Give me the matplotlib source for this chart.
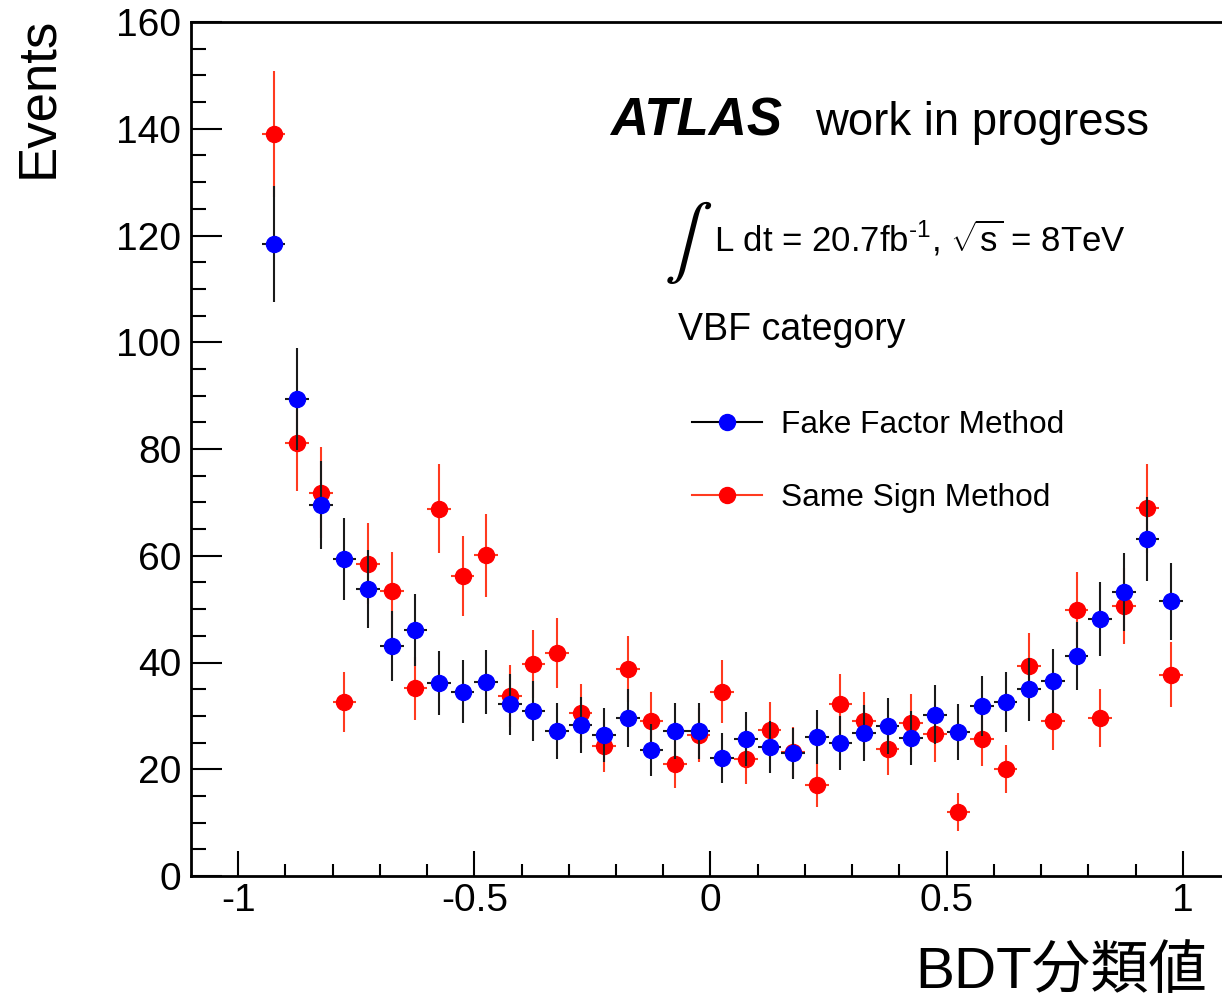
import numpy as np
import matplotlib
matplotlib.use("Agg")
import matplotlib.pyplot as plt
from matplotlib.lines import Line2D
from matplotlib import font_manager

# ---- data -------------------------------------------------------------
bin_centers = [-0.925, -0.875, -0.825, -0.775, -0.725, -0.675, -0.625, -0.575,
               -0.525, -0.475, -0.425, -0.375, -0.325, -0.275, -0.225, -0.175,
               -0.125, -0.075, -0.025, 0.025, 0.075, 0.125, 0.175, 0.225,
               0.275, 0.325, 0.375, 0.425, 0.475, 0.525, 0.575, 0.625,
               0.675, 0.725, 0.775, 0.825, 0.875, 0.925, 0.975]
bin_half_width = 0.025

fake_factor = [118.4, 89.4, 69.5, 59.4, 53.8, 43.1, 46.1, 36.2, 34.5, 36.3,
               32.2, 30.9, 27.2, 28.3, 26.4, 29.6, 23.6, 27.2, 27.2, 22.1,
               25.7, 24.2, 23.0, 26.0, 24.9, 26.8, 28.1, 25.9, 30.2, 27.0,
               31.9, 32.6, 35.0, 36.5, 41.2, 48.1, 53.2, 63.1, 51.5]
fake_factor_err = [10.9, 9.5, 8.3, 7.7, 7.3, 6.6, 6.8, 6.0, 5.9, 6.0,
                   5.7, 5.6, 5.2, 5.3, 5.1, 5.4, 4.9, 5.2, 5.2, 4.7,
                   5.1, 4.9, 4.8, 5.1, 5.0, 5.2, 5.3, 5.1, 5.5, 5.2,
                   5.6, 5.7, 5.9, 6.0, 6.4, 6.9, 7.3, 7.9, 7.2]

same_sign = [139.0, 81.1, 71.8, 32.6, 58.5, 53.4, 35.2, 68.8, 56.2, 60.1,
             33.7, 39.7, 41.8, 30.5, 24.4, 38.8, 29.0, 21.0, 26.4, 34.5,
             21.9, 27.4, 23.2, 17.0, 32.2, 29.0, 23.8, 28.7, 26.6, 12.0,
             25.7, 20.0, 39.3, 29.0, 49.8, 29.6, 50.6, 68.9, 37.7]
same_sign_err = [11.8, 9.0, 8.5, 5.7, 7.6, 7.3, 5.9, 8.3, 7.5, 7.8,
                 5.8, 6.3, 6.5, 5.5, 4.9, 6.2, 5.4, 4.6, 5.1, 5.9,
                 4.7, 5.2, 4.8, 4.1, 5.7, 5.4, 4.9, 5.4, 5.2, 3.5,
                 5.1, 4.5, 6.3, 5.4, 7.1, 5.4, 7.1, 8.3, 6.1]

x_ticks = [-1.0, -0.5, 0.0, 0.5, 1.0]
x_tick_labels = ['-1', '-0.5', '0', '0.5', '1']
y_ticks = [0, 20, 40, 60, 80, 100, 120, 140, 160]

# ---- style ------------------------------------------------------------
SANS = 'Liberation Sans'
available = {f.name for f in font_manager.fontManager.ttflist}
NARROW = 'Liberation Sans Narrow' if 'Liberation Sans Narrow' in available else SANS

plt.rcParams['font.family'] = [SANS, 'DejaVu Sans']
plt.rcParams['axes.unicode_minus'] = False
plt.rcParams['mathtext.fontset'] = 'custom'
plt.rcParams['mathtext.rm'] = SANS
plt.rcParams['mathtext.it'] = SANS
plt.rcParams['mathtext.bf'] = SANS + ':bold'
plt.rcParams['mathtext.sf'] = SANS

W, H = 1222, 998
fig = plt.figure(figsize=(W / 100, H / 100), dpi=100)
ax = fig.add_axes([191 / W, 122 / H, 1039 / W, 854 / H])

ax.set_xlim(-1.1, 1.1)
ax.set_ylim(0, 160)

# Same-sign estimate first, fake-factor estimate drawn on top
ax.errorbar(bin_centers, same_sign, yerr=same_sign_err, xerr=bin_half_width,
            fmt='o', ms=11.5, mfc='red', mec='red', ecolor='#ff3a1f',
            elinewidth=1.5, capsize=0, zorder=2)
ax.errorbar(bin_centers, fake_factor, yerr=fake_factor_err, xerr=bin_half_width,
            fmt='o', ms=11.5, mfc='blue', mec='blue', ecolor='#1a1a1a',
            elinewidth=1.5, capsize=0, zorder=3)

# axes frame and ticks
for side in ('left', 'bottom', 'top', 'right'):
    ax.spines[side].set_linewidth(2.0)
ax.set_xticks(x_ticks)
ax.set_xticklabels(x_tick_labels)
ax.set_xticks(np.arange(-1.0, 1.01, 0.1), minor=True)
ax.set_yticks(y_ticks)
ax.set_yticks(np.arange(0, 161, 5), minor=True)
ax.tick_params(axis='both', which='both', direction='in', width=1.5,
               labelsize=28, top=False, right=False)
ax.tick_params(axis='x', which='major', length=18, pad=5)
ax.tick_params(axis='x', which='minor', length=9)
ax.tick_params(axis='y', which='major', length=22, pad=7)
ax.tick_params(axis='y', which='minor', length=11)

# axis titles
ax.set_ylabel('Events', loc='top', fontsize=45 if NARROW != SANS else 38,
              family=[NARROW, 'DejaVu Sans'])
ax.yaxis.set_label_coords((63 - 191) / 1039, 1.0 + 5 / 854)
ax.set_xlabel('BDT分類値', loc='right', fontsize=42,
              family=[SANS, 'Noto Sans CJK JP'])
ax.xaxis.set_label_coords((1207 - 191) / 1039, (876 - 946) / 854)

# annotations
ax.text((610 - 191) / 1039, (876 - 135) / 854, 'ATLAS', transform=ax.transAxes,
        fontsize=38, fontweight='bold', fontstyle='italic', va='baseline')
ax.text((815 - 191) / 1039, (876 - 135) / 854, 'work in progress',
        transform=ax.transAxes, fontsize=32.8, va='baseline')
ax.text((688 - 191) / 1039, (876 - 243) / 854, r'$\int$', transform=ax.transAxes,
        fontsize=52, ha='center', va='center', math_fontfamily='stix')
ax.text((714 - 191) / 1039, (876 - 252) / 854,
        r'L dt = 20.7fb$^{\text{-1}}$, $\sqrt{s}$ = 8TeV',
        transform=ax.transAxes, fontsize=25, va='baseline')
ax.text((678 - 191) / 1039, (876 - 340) / 854, 'VBF category',
        transform=ax.transAxes, fontsize=27, va='baseline')

# legend
handles = [
    Line2D([], [], color='black', lw=1.5, marker='o', ms=11.5,
           mfc='blue', mec='blue'),
    Line2D([], [], color='#ff3a1f', lw=1.5, marker='o', ms=11.5,
           mfc='red', mec='red'),
]
ax.legend(handles, ['Fake Factor Method', 'Same Sign Method'],
          loc='upper left', bbox_to_anchor=((692 - 191) / 1039, (876 - 410) / 854),
          frameon=False, fontsize=22.8, borderpad=0, borderaxespad=0,
          handlelength=2.21, handletextpad=0.6, labelspacing=1.35, numpoints=1)

fig.savefig('out.png', dpi=100)
